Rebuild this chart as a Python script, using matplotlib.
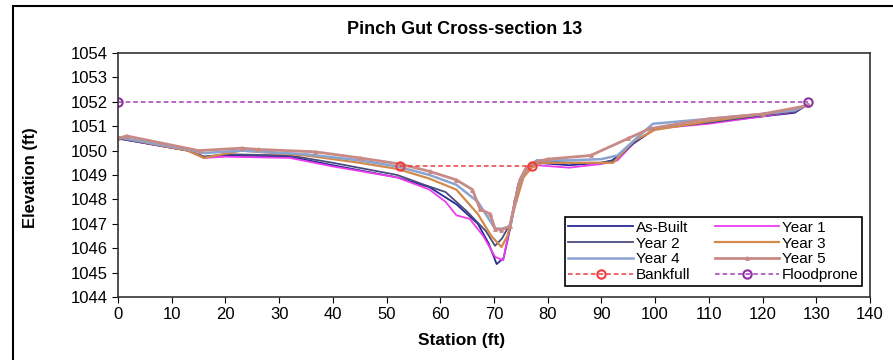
import numpy as np
import matplotlib
matplotlib.use('Agg')
import matplotlib.pyplot as plt
from matplotlib.patches import Rectangle

plt.rcParams['font.family'] = ['Liberation Sans', 'DejaVu Sans']

# survey data (station ft, elevation ft)
asbuilt_st = [0, 13, 16, 20, 32, 40, 52, 58, 63, 67, 69, 70.5, 71.8, 73.2, 74.5, 76, 78, 84, 90, 92, 96, 100, 110, 120, 126, 128.5]
asbuilt_el = [1050.5, 1050.0, 1049.75, 1049.8, 1049.75, 1049.4, 1048.9, 1048.5, 1047.8, 1047.0, 1046.2, 1045.35, 1045.6, 1047.0, 1048.6, 1049.3, 1049.5, 1049.4, 1049.5, 1049.6, 1050.3, 1050.9, 1051.15, 1051.4, 1051.55, 1051.9]

yr1_st = [0, 13, 16, 20, 32, 40, 52, 58, 61, 63, 65.5, 68, 70.2, 71.7, 73, 74.5, 76, 78, 84, 90, 93, 96, 100, 110, 120, 126, 128.5]
yr1_el = [1050.5, 1050.0, 1049.7, 1049.75, 1049.7, 1049.35, 1048.9, 1048.4, 1047.9, 1047.35, 1047.2, 1046.5, 1045.65, 1045.5, 1046.9, 1048.5, 1049.2, 1049.4, 1049.3, 1049.45, 1049.6, 1050.3, 1050.9, 1051.1, 1051.4, 1051.6, 1051.9]

yr2_st = [0, 13, 16, 20, 32, 40, 52, 57, 61, 65, 68.5, 70.2, 71.5, 73, 74.5, 76, 78, 84, 90, 92.5, 96, 100, 110, 120, 126, 128.5]
yr2_el = [1050.5, 1050.0, 1049.75, 1049.85, 1049.8, 1049.5, 1049.0, 1048.6, 1048.3, 1047.5, 1046.7, 1046.1, 1046.4, 1047.0, 1048.6, 1049.3, 1049.6, 1049.5, 1049.5, 1049.6, 1050.3, 1050.9, 1051.15, 1051.45, 1051.6, 1051.9]

yr3_st = [0, 13, 16, 23, 35, 45, 52, 58, 63, 67, 69.5, 71.4, 72.5, 74, 75.5, 77, 79, 86, 92.2, 96, 100, 110, 120, 126, 128.5]
yr3_el = [1050.55, 1050.0, 1049.7, 1050.0, 1049.8, 1049.5, 1049.25, 1048.85, 1048.4, 1047.4, 1046.5, 1046.05, 1046.5, 1047.8, 1048.9, 1049.3, 1049.5, 1049.5, 1049.5, 1050.4, 1050.85, 1051.2, 1051.5, 1051.65, 1051.9]

yr4_st = [0, 13, 16, 23, 35, 45, 52, 58, 63, 67, 70.2, 71.5, 73, 74.5, 76, 78, 84, 90, 93, 97, 99.6, 110, 120, 126, 128.5]
yr4_el = [1050.55, 1050.05, 1049.9, 1050.0, 1049.85, 1049.6, 1049.35, 1049.0, 1048.6, 1047.9, 1046.8, 1046.8, 1046.9, 1048.5, 1049.3, 1049.6, 1049.6, 1049.65, 1049.8, 1050.6, 1051.1, 1051.3, 1051.5, 1051.65, 1051.9]

yr5_st = [0, 1.6, 15, 23, 26, 36.7, 45, 52.5, 58, 63, 66, 67.4, 69.3, 70.2, 71.4, 73, 74, 74.8, 76, 78, 80, 88, 95, 99, 110, 120, 128.5]
yr5_el = [1050.5, 1050.6, 1050.0, 1050.1, 1050.05, 1049.95, 1049.7, 1049.45, 1049.15, 1048.8, 1048.4, 1047.6, 1047.4, 1046.8, 1046.75, 1046.9, 1048.0, 1048.8, 1049.3, 1049.55, 1049.65, 1049.8, 1050.5, 1050.9, 1051.3, 1051.5, 1051.85]

bkf_st = [52.5, 77]
bkf_el = [1049.37, 1049.37]
fp_st = [0, 128.5]
fp_el = [1052, 1052]

fig = plt.figure(figsize=(8.93, 3.6), dpi=100)
ax = fig.add_axes([0.1321, 0.175, 0.8421, 0.6778])

h = {}
h['As-Built'], = ax.plot(asbuilt_st, asbuilt_el, color='#2a2a96', lw=1.3)
h['Year 1'], = ax.plot(yr1_st, yr1_el, color='#ee3cee', lw=1.3)
h['Year 2'], = ax.plot(yr2_st, yr2_el, color='#4b4b80', lw=1.3)
h['Year 3'], = ax.plot(yr3_st, yr3_el, color='#d28a4a', lw=1.6)
h['Year 4'], = ax.plot(yr4_st, yr4_el, color='#8aa4d2', lw=1.8)
h['Year 5'], = ax.plot(yr5_st, yr5_el, color='#c88a84', lw=2.0, marker='^', ms=2.5)
h['Bankfull'], = ax.plot(bkf_st, bkf_el, color='#f03c3c', lw=1.1, ls=(0, (3, 2)),
                         marker='o', ms=6, mfc='none', mec='#f03c3c', mew=1.5)
h['Floodprone'], = ax.plot(fp_st, fp_el, color='#a03cb4', lw=1.1, ls=(0, (3, 2)),
                           marker='o', ms=6, mfc='none', mec='#9030a0', mew=1.5)

ax.set_xlim(0, 140)
ax.set_ylim(1044, 1054)
ax.set_xticks(np.arange(0, 141, 10))
ax.set_yticks(np.arange(1044, 1055, 1))
ax.tick_params(direction='out', labelsize=12, length=4, top=False, right=False)
ax.yaxis.set_major_formatter(matplotlib.ticker.FormatStrFormatter('%d'))
for s in ax.spines.values():
    s.set_linewidth(1.2)
    s.set_color('#333333')

order = ['As-Built', 'Year 2', 'Year 4', 'Bankfull', 'Year 1', 'Year 3', 'Year 5', 'Floodprone']
leg = ax.legend([h[k] for k in order], order, ncol=2, loc='lower right',
                bbox_to_anchor=(0.99, 0.045), fontsize=11, fancybox=False,
                framealpha=1, edgecolor='black', handlelength=4.2,
                handletextpad=0.2, columnspacing=1.6, labelspacing=0.12,
                borderpad=0.25, borderaxespad=0)
leg.get_frame().set_linewidth(1.2)

fig.text(464.5 / 893, 1 - 29 / 360, 'Pinch Gut Cross-section 13', ha='center',
         va='center', fontsize=13, fontweight='bold')
fig.text(462 / 893, 1 - 340 / 360, 'Station (ft)', ha='center', va='center',
         fontsize=12.5, fontweight='bold')
fig.text(30 / 893, 1 - 178 / 360, 'Elevation (ft)', ha='center', va='center',
         fontsize=12, fontweight='bold', rotation=90)

fig.patches.append(Rectangle((13 / 893, -0.2), 1.2, 1.2 - 6 / 360,
                             transform=fig.transFigure, fill=False,
                             edgecolor='black', lw=1.5))

fig.savefig('out.png', dpi=100)
